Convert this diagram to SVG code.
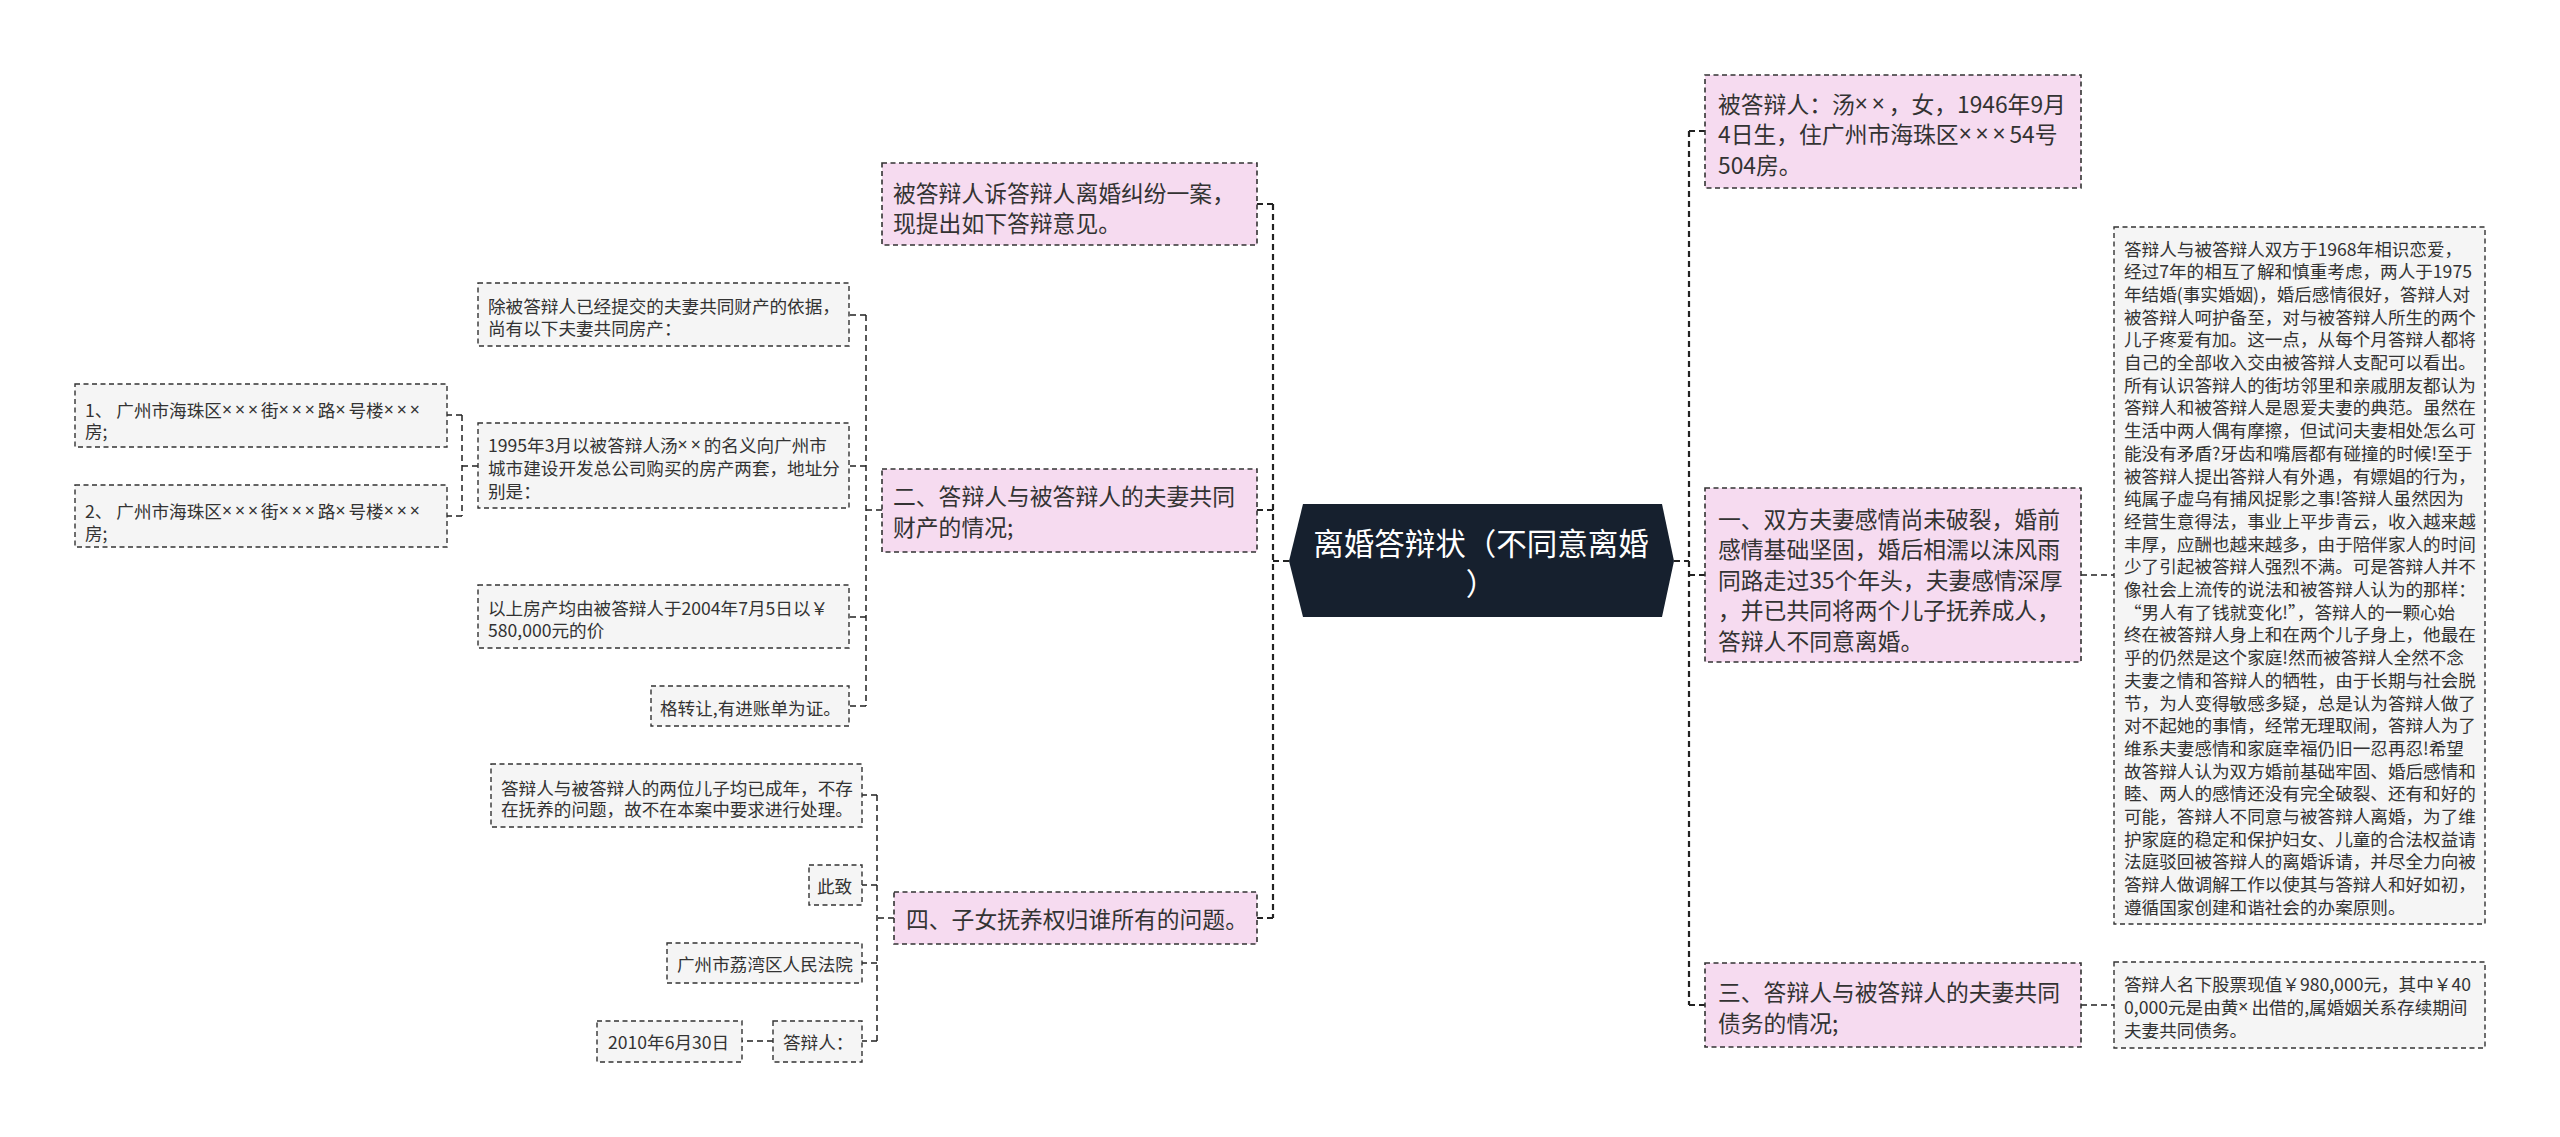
<svg xmlns="http://www.w3.org/2000/svg" width="2560" height="1137" viewBox="0 0 2560 1137">
<style>
text{font-family:"Noto Sans CJK SC","Noto Sans",sans-serif;fill:#333;dominant-baseline:central}
.x{font-family:"Noto Sans",sans-serif;letter-spacing:0.17em}
.pk rect{fill:#f6dbf0;stroke:#333;stroke-width:1.6;stroke-dasharray:5 3.5}
.gy rect{fill:#f5f5f5;stroke:#333;stroke-width:1.4;stroke-dasharray:5 3.5}
.pk text{font-size:22.8px}
.gy text{font-size:17.6px}
.c path{fill:none;stroke:#222;stroke-dasharray:6 4}
.main{stroke-width:2.2}
.sub{stroke-width:1.5}
</style>
<rect width="2560" height="1137" fill="#fff"/>
<g class="c" id="connectors">
<path class="main" d="M1289 561H1273M1273 204V918M1273 204H1257M1273 510H1257M1273 918H1257"/>
<path class="main" d="M1674 561H1689M1689 131V1005M1689 131H1705M1689 575H1705M1689 1005H1705"/>
<path class="sub" d="M2081 575H2114M2081 1005H2114"/>
<path class="sub" d="M882 510H866M866 315V706M866 315H849M866 466H849M866 617H849M866 706H849"/>
<path class="sub" d="M478 466H462M462 415V516M462 415H447M462 516H447"/>
<path class="sub" d="M894 918H877M877 795V1041M877 795H862M877 885H862M877 963H862M877 1041H862"/>
<path class="sub" d="M773 1041H742"/>
</g>
<g id="root">
<polygon points="1289,561 1303,504 1662,504 1674,561 1662,617 1303,617" fill="#16202e"/>
<text x="1481" y="542" text-anchor="middle" style="fill:#fff;font-size:30.5px">离婚答辩状（不同意离婚</text>
<text x="1481" y="582" text-anchor="middle" style="fill:#fff;font-size:30.5px">）</text>
</g>
<g id="r1" class="pk"><rect x="1705" y="75" width="376" height="113"/>
<text x="1718" y="103">被答辩人：汤<tspan class="x">××</tspan>，女，1946年9月</text>
<text x="1718" y="133">4日生，住广州市海珠区<tspan class="x">×××</tspan>54号</text>
<text x="1718" y="164">504房。</text></g>
<g id="r2" class="pk"><rect x="1705" y="488" width="376" height="174"/>
<text x="1718" y="518">一、双方夫妻感情尚未破裂，婚前</text>
<text x="1718" y="548">感情基础坚固，婚后相濡以沫风雨</text>
<text x="1718" y="579">同路走过35个年头，夫妻感情深厚</text>
<text x="1718" y="609">，并已共同将两个儿子抚养成人，</text>
<text x="1718" y="640">答辩人不同意离婚。</text></g>
<g id="r3" class="pk"><rect x="1705" y="963" width="376" height="84"/>
<text x="1718" y="991">三、答辩人与被答辩人的夫妻共同</text>
<text x="1718" y="1022">债务的情况;</text></g>
<g id="r2a" class="gy"><rect x="2114" y="227" width="371" height="697"/>
<text x="2124" y="248">答辩人与被答辩人双方于1968年相识恋爱，</text>
<text x="2124" y="270.7">经过7年的相互了解和慎重考虑，两人于1975</text>
<text x="2124" y="293.4">年结婚(事实婚姻)，婚后感情很好，答辩人对</text>
<text x="2124" y="316.1">被答辩人呵护备至，对与被答辩人所生的两个</text>
<text x="2124" y="338.8">儿子疼爱有加。这一点，从每个月答辩人都将</text>
<text x="2124" y="361.5">自己的全部收入交由被答辩人支配可以看出。</text>
<text x="2124" y="384.2">所有认识答辩人的街坊邻里和亲戚朋友都认为</text>
<text x="2124" y="406.9">答辩人和被答辩人是恩爱夫妻的典范。虽然在</text>
<text x="2124" y="429.6">生活中两人偶有摩擦，但试问夫妻相处怎么可</text>
<text x="2124" y="452.3">能没有矛盾?牙齿和嘴唇都有碰撞的时候!至于</text>
<text x="2124" y="475">被答辩人提出答辩人有外遇，有嫖娼的行为，</text>
<text x="2124" y="497.7">纯属子虚乌有捕风捉影之事!答辩人虽然因为</text>
<text x="2124" y="520.4">经营生意得法，事业上平步青云，收入越来越</text>
<text x="2124" y="543.1">丰厚，应酬也越来越多，由于陪伴家人的时间</text>
<text x="2124" y="565.8">少了引起被答辩人强烈不满。可是答辩人并不</text>
<text x="2124" y="588.5">像社会上流传的说法和被答辩人认为的那样：</text>
<text x="2124" y="611.2">“男人有了钱就变化!”，答辩人的一颗心始</text>
<text x="2124" y="633.9">终在被答辩人身上和在两个儿子身上，他最在</text>
<text x="2124" y="656.6">乎的仍然是这个家庭!然而被答辩人全然不念</text>
<text x="2124" y="679.3">夫妻之情和答辩人的牺牲，由于长期与社会脱</text>
<text x="2124" y="702">节，为人变得敏感多疑，总是认为答辩人做了</text>
<text x="2124" y="724.7">对不起她的事情，经常无理取闹，答辩人为了</text>
<text x="2124" y="747.4">维系夫妻感情和家庭幸福仍旧一忍再忍!希望</text>
<text x="2124" y="770.1">故答辩人认为双方婚前基础牢固、婚后感情和</text>
<text x="2124" y="792.8">睦、两人的感情还没有完全破裂、还有和好的</text>
<text x="2124" y="815.5">可能，答辩人不同意与被答辩人离婚，为了维</text>
<text x="2124" y="838.2">护家庭的稳定和保护妇女、儿童的合法权益请</text>
<text x="2124" y="860.9">法庭驳回被答辩人的离婚诉请，并尽全力向被</text>
<text x="2124" y="883.6">答辩人做调解工作以使其与答辩人和好如初，</text>
<text x="2124" y="906.3">遵循国家创建和谐社会的办案原则。</text></g>
<g id="r3a" class="gy"><rect x="2114" y="962" width="371" height="86"/>
<text x="2124" y="983">答辩人名下股票现值￥980,000元，其中￥40</text>
<text x="2124" y="1006">0,000元是由黄<tspan class="x">×</tspan>出借的,属婚姻关系存续期间</text>
<text x="2124" y="1029">夫妻共同债务。</text></g>
<g id="l1" class="pk"><rect x="882" y="163" width="375" height="82"/>
<text x="893" y="192">被答辩人诉答辩人离婚纠纷一案，</text>
<text x="893" y="222">现提出如下答辩意见。</text></g>
<g id="l2" class="pk"><rect x="882" y="469" width="375" height="83"/>
<text x="893" y="495">二、答辩人与被答辩人的夫妻共同</text>
<text x="893" y="526">财产的情况;</text></g>
<g id="l3" class="pk"><rect x="894" y="892" width="363" height="52"/>
<text x="906" y="918">四、子女抚养权归谁所有的问题。</text></g>
<g id="l2a" class="gy"><rect x="478" y="283" width="371" height="63"/>
<text x="488" y="305">除被答辩人已经提交的夫妻共同财产的依据，</text>
<text x="488" y="327">尚有以下夫妻共同房产：</text></g>
<g id="l2b" class="gy"><rect x="478" y="423" width="371" height="85"/>
<text x="488" y="444">1995年3月以被答辩人汤<tspan class="x">××</tspan>的名义向广州市</text>
<text x="488" y="467">城市建设开发总公司购买的房产两套，地址分</text>
<text x="488" y="490">别是：</text></g>
<g id="l2c" class="gy"><rect x="478" y="585" width="371" height="63"/>
<text x="488" y="607">以上房产均由被答辩人于2004年7月5日以￥</text>
<text x="488" y="629">580,000元的价</text></g>
<g id="l2d" class="gy"><rect x="651" y="686" width="198" height="40"/>
<text x="660" y="707">格转让,有进账单为证。</text></g>
<g id="l2b1" class="gy"><rect x="75" y="384" width="372" height="63"/>
<text x="85" y="409">1、 广州市海珠区<tspan class="x">×××</tspan>街<tspan class="x">×××</tspan>路<tspan class="x">×</tspan>号楼<tspan class="x">×××</tspan></text>
<text x="85" y="430">房;</text></g>
<g id="l2b2" class="gy"><rect x="75" y="485" width="372" height="62"/>
<text x="85" y="510">2、 广州市海珠区<tspan class="x">×××</tspan>街<tspan class="x">×××</tspan>路<tspan class="x">×</tspan>号楼<tspan class="x">×××</tspan></text>
<text x="85" y="532">房;</text></g>
<g id="l3a" class="gy"><rect x="491" y="764" width="371" height="63"/>
<text x="501" y="787">答辩人与被答辩人的两位儿子均已成年，不存</text>
<text x="501" y="808">在抚养的问题，故不在本案中要求进行处理。</text></g>
<g id="l3b" class="gy"><rect x="809" y="865" width="53" height="40"/>
<text x="817" y="885">此致</text></g>
<g id="l3c" class="gy"><rect x="667" y="943" width="195" height="40"/>
<text x="677" y="963">广州市荔湾区人民法院</text></g>
<g id="l3d" class="gy"><rect x="773" y="1021" width="89" height="41"/>
<text x="783" y="1041">答辩人：</text></g>
<g id="l3d1" class="gy"><rect x="597" y="1021" width="145" height="41"/>
<text x="608" y="1041">2010年6月30日</text></g>
</svg>
